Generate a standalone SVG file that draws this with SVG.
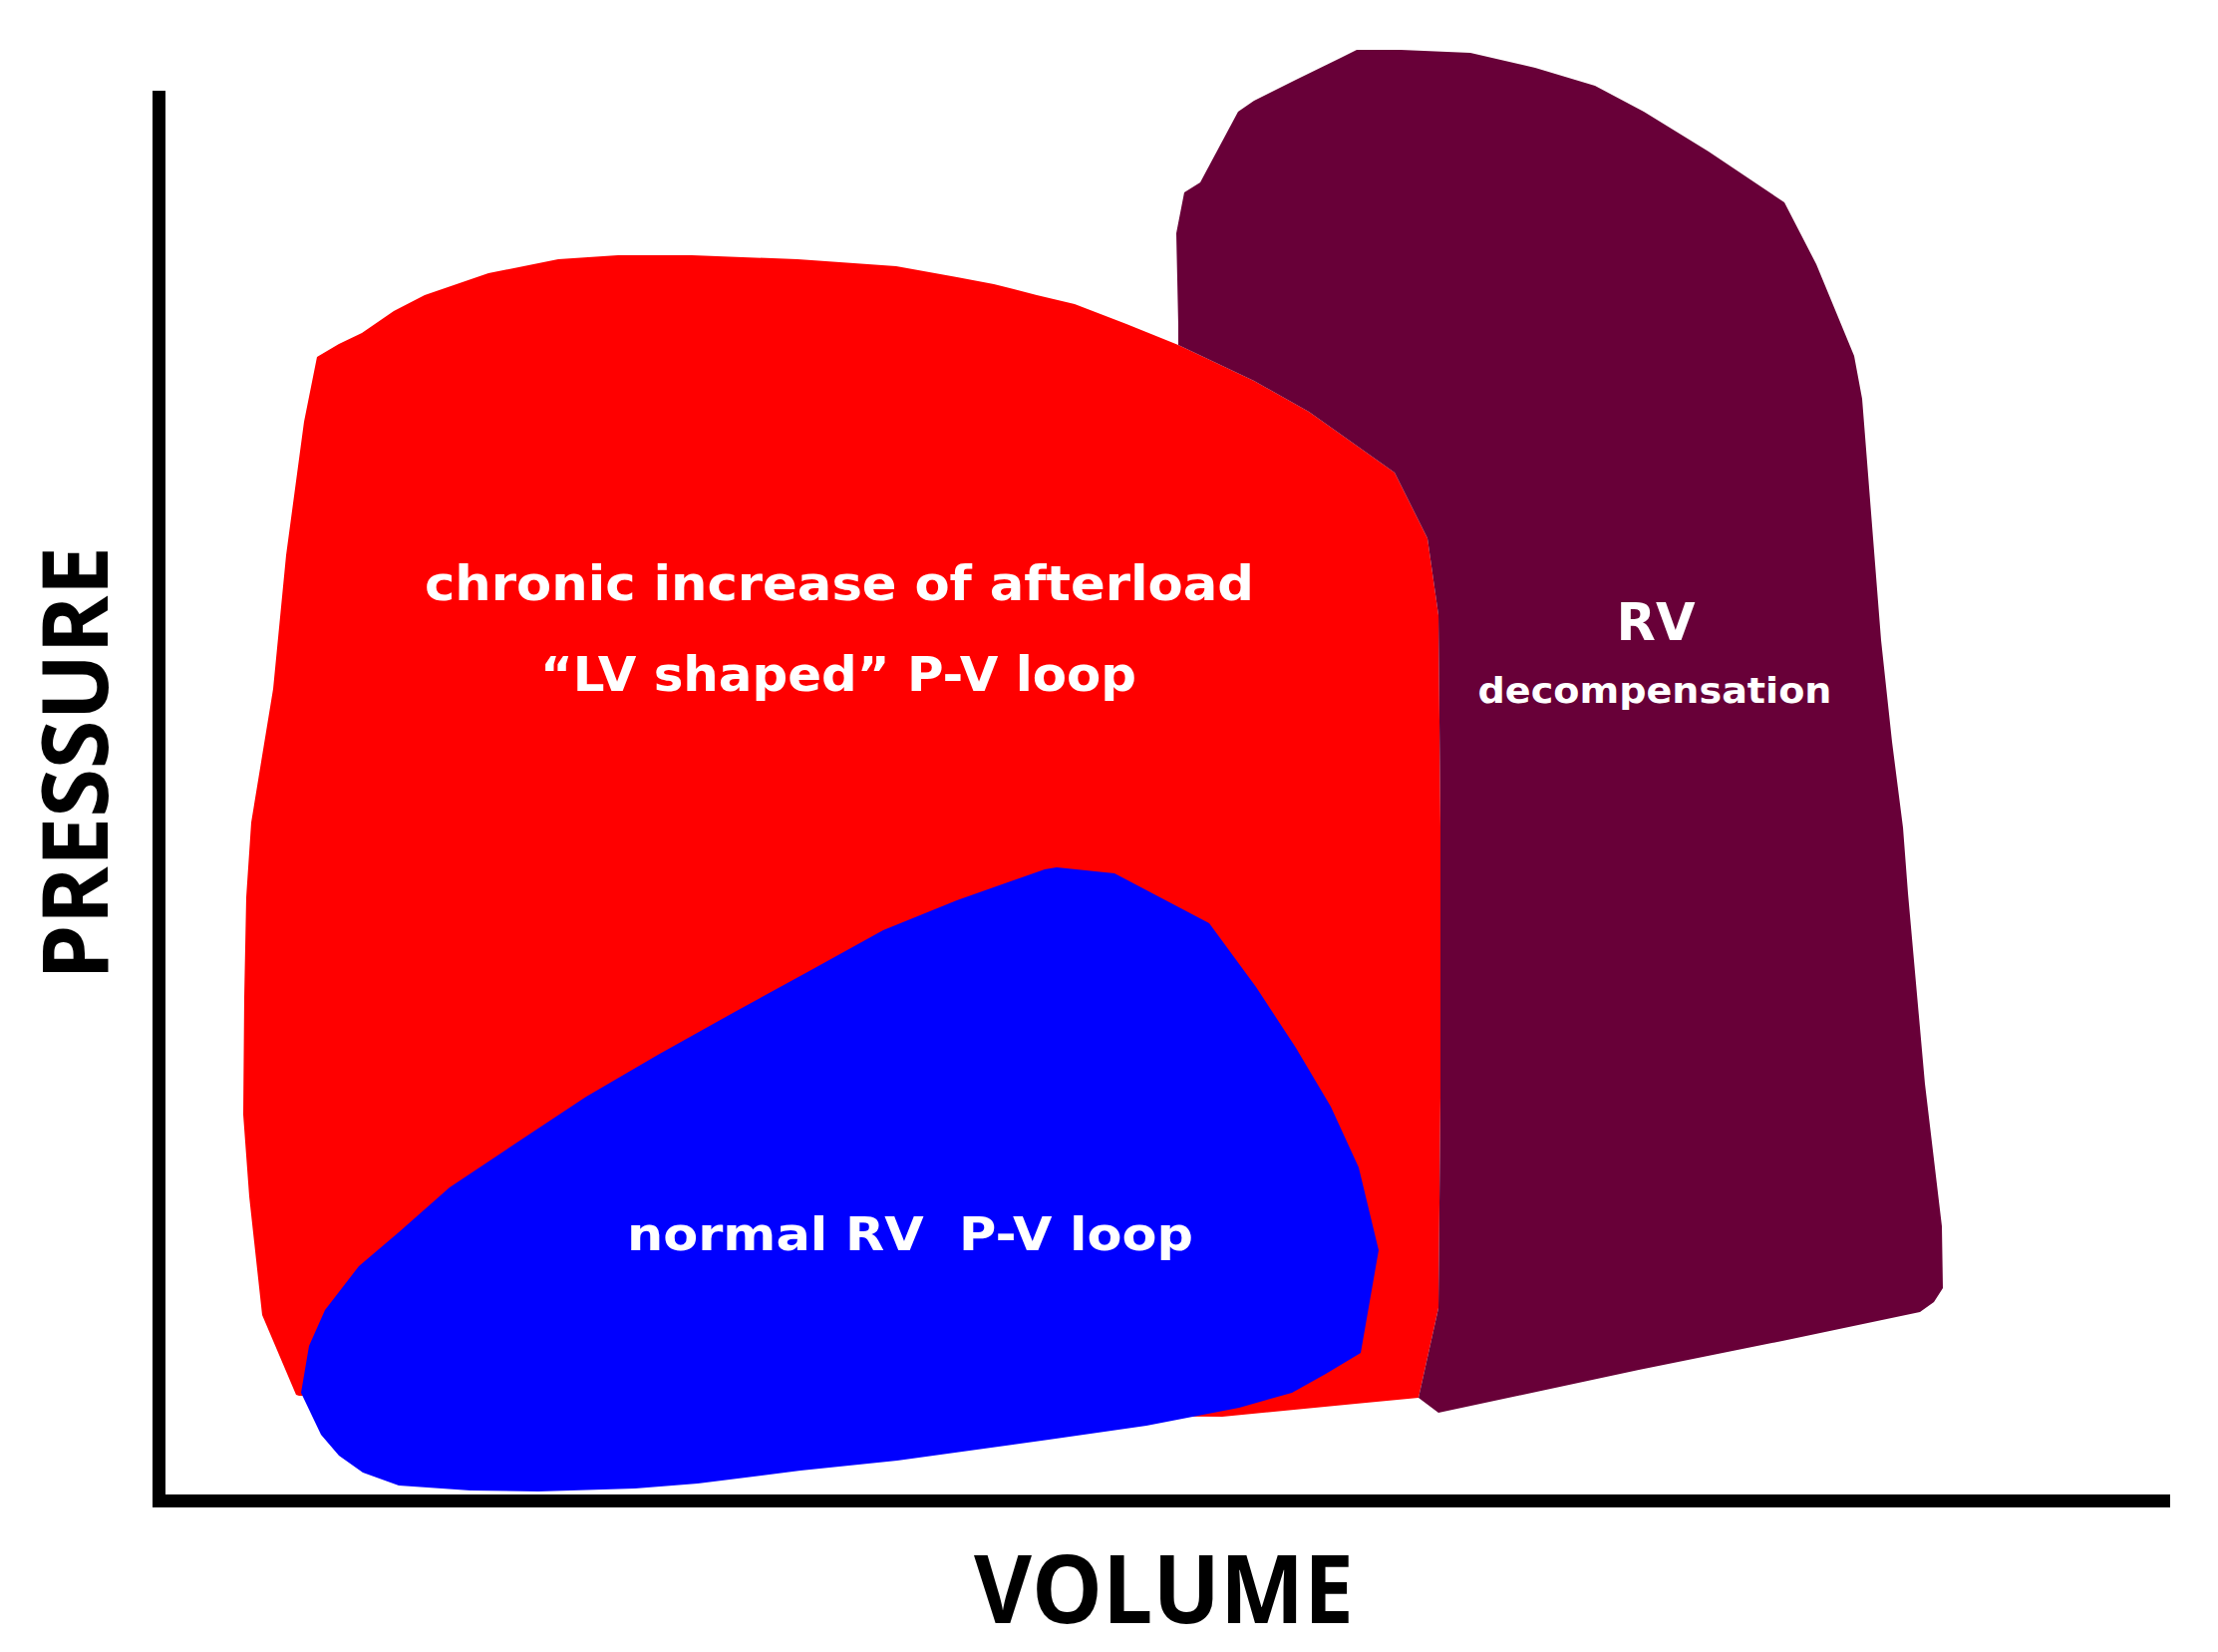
<svg xmlns="http://www.w3.org/2000/svg" width="2225" height="1657" viewBox="0 0 2225 1657">
<style>
.lbl{font-family:"DejaVu Sans","Liberation Sans",sans-serif;font-weight:bold;fill:#ffffff;text-anchor:middle;white-space:pre}
.ax{font-family:"Open Sans","Liberation Sans",sans-serif;font-weight:bold;fill:#000000;text-anchor:middle}
.axis{stroke:#000000;stroke-width:13;fill:none;stroke-linecap:butt}
</style>
<rect x="0" y="0" width="2225" height="1657" fill="#ffffff"/>
<g id="red-loop">
<path fill="#ff0000" d="M318,358 L340,345 L363,334 L395,312 L426,296 L490,274 L560,260 L620,256 L694,256 L800,260 L899,267 L960,278 L997,285 L1040,296 L1078,305 L1130,325 L1182,346 L1258,382 L1313,413 L1399,474 L1432,540 L1443,617 L1445,830 L1445,1100 L1443,1312 L1423,1402 L1360,1408 L1226,1421 L1100,1420 L600,1400 L300,1400 L297,1399 L263,1319 L250,1200 L244,1118 L245,1000 L247,900 L252,825 L274,691 L287,557 L305,423 Z"/>
<text class="lbl" x="842" y="602" font-size="48" textLength="832" lengthAdjust="spacingAndGlyphs">chronic increase of afterload</text>
<text class="lbl" x="841" y="693" font-size="48" textLength="598" lengthAdjust="spacingAndGlyphs">“LV shaped” P-V loop</text>
</g>
<g id="maroon-loop">
<path fill="#680038" d="M1182,346 L1182,326 L1180,234 L1188,193 L1204,183 L1242,112 L1258,101 L1300,80 L1345,58 L1361,50 L1405,50 L1475,53 L1540,68 L1600,86 L1649,112 L1714,152 L1790,203 L1822,265 L1860,357 L1868,400 L1871,438 L1879,540 L1887,642 L1898,744 L1909,830 L1914,896 L1931,1087 L1948,1230 L1949,1292 L1940,1306 L1926,1316 L1788,1345 L1644,1374 L1443,1417 L1423,1402 L1443,1312 L1445,1100 L1445,830 L1443,617 L1432,540 L1399,474 L1313,413 L1258,382 Z"/>
<text class="lbl" x="1661" y="642" font-size="52" textLength="79" lengthAdjust="spacingAndGlyphs">RV</text>
<text class="lbl" x="1660" y="705" font-size="36" textLength="355" lengthAdjust="spacingAndGlyphs">decompensation</text>
</g>
<g id="blue-loop">
<path fill="#0000ff" d="M302,1397 L310,1350 L326,1314 L360,1270 L400,1236 L451,1191 L520,1145 L588,1100 L660,1058 L737,1015 L810,975 L886,933 L960,903 L1048,872 L1060,870 L1118,876 L1213,926 L1260,990 L1300,1051 L1335,1110 L1363,1171 L1383,1254 L1365,1357 L1330,1378 L1296,1397 L1243,1412 L1150,1430 L1052,1444 L900,1465 L803,1475 L700,1488 L637,1493 L540,1496 L472,1495 L400,1490 L364,1477 L340,1460 L322,1439 Z"/>
<text class="lbl" x="913" y="1254" font-size="46" textLength="568" lengthAdjust="spacingAndGlyphs" xml:space="preserve">normal RV  P-V loop</text>
</g>
<g id="connectors">
<path class="axis" d="M159.5,91 L159.5,1512"/>
<path class="axis" d="M153,1505.5 L2177,1505.5"/>
</g>
<g id="axis-labels">
<text class="ax" transform="translate(108,765.5) rotate(-90)" x="0" y="0" font-size="92" textLength="435" lengthAdjust="spacingAndGlyphs">PRESSURE</text>
<text class="ax" x="1167.5" y="1628" font-size="95" textLength="381" lengthAdjust="spacingAndGlyphs">VOLUME</text>
</g>
</svg>
